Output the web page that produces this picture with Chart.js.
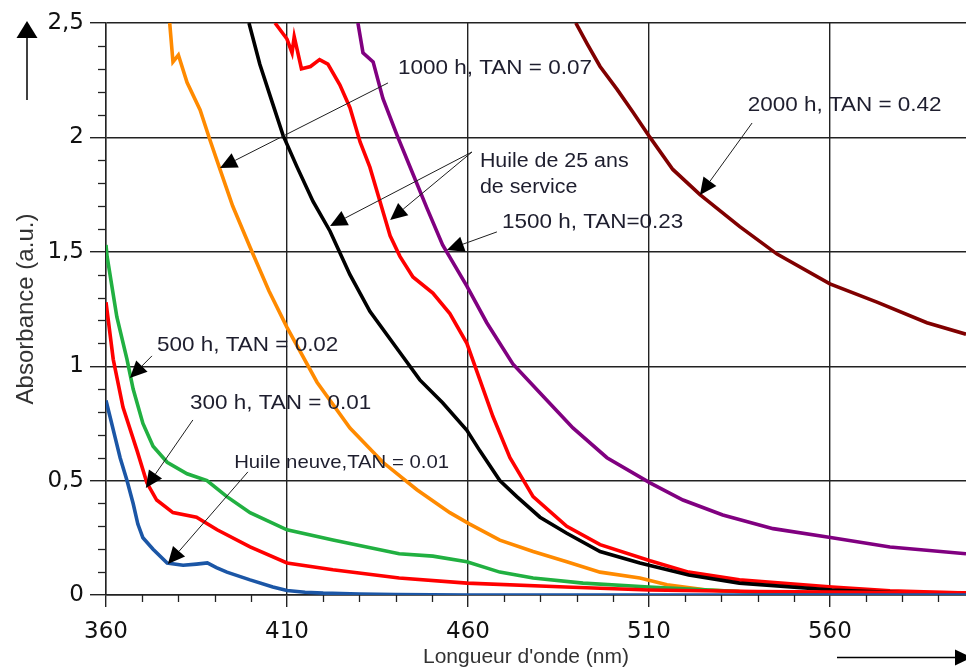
<!DOCTYPE html>
<html>
<head>
<meta charset="utf-8">
<script src="https://cdn.jsdelivr.net/npm/chart.js@4.4.1/dist/chart.umd.min.js"></script>
<style>
  html,body{margin:0;padding:0;background:#fff;}
  #wrap{width:966px;height:668px;position:relative;}
</style>
</head>
<body>
<div id="wrap"><canvas id="c" width="966" height="668"></canvas></div>
<script>
// ---------- DATA ----------
const xTickValues = [360, 410, 460, 510, 560];
const yTickValues = [0, 0.5, 1, 1.5, 2, 2.5];
const yTickLabels = ['0', '0,5', '1', '1,5', '2', '2,5'];

// Huile neuve, TAN = 0.01 (blue)
const neuveNm  = [360, 361.1, 362.5, 363.9, 365.8, 367.5, 368.8, 370.2, 373, 376.9, 381.3, 385, 388, 390.5, 393.4, 399.8, 406.1, 410, 415, 420, 430, 440, 460, 597.6];
const neuveAbs = [0.85, 0.78, 0.69, 0.60, 0.50, 0.40, 0.31, 0.25, 0.20, 0.14, 0.13, 0.135, 0.14, 0.12, 0.10, 0.066, 0.035, 0.02, 0.012, 0.008, 0.004, 0.002, 0.0, 0.0];

// 300 h, TAN = 0.01 (red, low)
const h300Nm  = [360, 362, 364.7, 368.6, 371.3, 374, 378.5, 385, 390.7, 399.8, 410, 422.7, 441, 459.7, 487, 510, 540, 570, 597.6];
const h300Abs = [1.28, 1.03, 0.82, 0.63, 0.49, 0.415, 0.36, 0.34, 0.285, 0.21, 0.14, 0.11, 0.074, 0.052, 0.035, 0.022, 0.015, 0.012, 0.01];

// 500 h, TAN = 0.02 (green)
const h500Nm  = [360, 360.3, 363, 365.8, 367.5, 370.2, 373, 376.9, 382.4, 387.9, 393.4, 399.8, 410, 422.7, 441, 450.3, 459.7, 468.8, 478, 491.8, 510, 535, 560, 597.6];
const h500Abs = [1.53, 1.48, 1.215, 1.03, 0.90, 0.75, 0.65, 0.58, 0.53, 0.50, 0.43, 0.36, 0.285, 0.24, 0.18, 0.17, 0.145, 0.10, 0.074, 0.052, 0.035, 0.015, 0.008, 0.005];

// 1000 h, TAN = 0.07 (orange)
const h1000Nm  = [377.6, 378.5, 380, 382.4, 386, 388.7, 391.5, 395, 399.8, 405, 410, 418.3, 427.4, 436.5, 445.9, 455, 460.5, 468.8, 478, 487.3, 496.5, 507.5, 515, 526, 544, 570, 597.6];
const h1000Abs = [2.5, 2.33, 2.36, 2.24, 2.12, 1.99, 1.86, 1.70, 1.52, 1.33, 1.17, 0.93, 0.73, 0.58, 0.46, 0.36, 0.31, 0.24, 0.19, 0.145, 0.10, 0.074, 0.045, 0.022, 0.008, 0.003, 0];

// Huile de 25 ans de service (black)
const ans25aNm  = [399.5, 402.5, 406, 408.9, 412.8, 417.2, 421.9, 427.4, 432.9, 441.2, 446.7, 453, 459.7, 463.3, 468.8, 473.5, 479.9, 487.3, 496.5, 507.5, 521, 535, 560.6, 580, 597.6];
const ans25aAbs = [2.5, 2.32, 2.15, 2.01, 1.87, 1.72, 1.59, 1.40, 1.24, 1.06, 0.94, 0.84, 0.72, 0.63, 0.50, 0.43, 0.34, 0.27, 0.19, 0.14, 0.087, 0.052, 0.022, 0.01, 0.004];

// Huile de 25 ans de service (red, upper)
const ans25bNm  = [406.7, 410, 411.4, 412, 414, 416.5, 419, 421.3, 424.6, 427.4, 430.2, 432.9, 435.7, 438.5, 441.2, 444.8, 450.3, 455, 459.7, 463.3, 466.9, 471.6, 478, 487.3, 496.5, 510.3, 521, 535, 560.6, 576.6, 597.6];
const ans25bAbs = [2.5, 2.43, 2.37, 2.44, 2.30, 2.31, 2.34, 2.32, 2.23, 2.13, 1.98, 1.87, 1.72, 1.57, 1.48, 1.39, 1.32, 1.23, 1.10, 0.94, 0.78, 0.60, 0.43, 0.30, 0.22, 0.150, 0.10, 0.066, 0.035, 0.018, 0.008];

// 1500 h, TAN = 0.23 (purple)
const h1500Nm  = [429.6, 431, 433.8, 436.5, 440.4, 444.8, 448.7, 453, 459.7, 465.2, 472.4, 480.7, 489, 498.4, 510.3, 519.4, 530.4, 544.3, 560.6, 576.6, 597.6];
const h1500Abs = [2.5, 2.37, 2.33, 2.17, 2.01, 1.84, 1.69, 1.53, 1.35, 1.19, 1.01, 0.87, 0.73, 0.60, 0.49, 0.415, 0.35, 0.29, 0.25, 0.21, 0.18];

// 2000 h, TAN = 0.42 (maroon)
const h2000Nm  = [489.8, 492.9, 496.5, 501.2, 505.6, 510.3, 516.6, 524.1, 535.1, 545.4, 560, 573, 586.8, 597.6];
const h2000Abs = [2.5, 2.41, 2.31, 2.21, 2.11, 2.00, 1.86, 1.75, 1.61, 1.49, 1.36, 1.28, 1.19, 1.14];

// ---------- BUILD ----------
const zip = (xs, ys) => xs.map((x, i) => ({x: x, y: ys[i]}));
const series = [
  {label: 'Huile neuve, TAN = 0.01', nm: neuveNm, abs: neuveAbs, color: '#1b56a6'},
  {label: '300 h, TAN = 0.01', nm: h300Nm, abs: h300Abs, color: '#ff0000'},
  {label: '500 h, TAN = 0.02', nm: h500Nm, abs: h500Abs, color: '#21b041'},
  {label: '1000 h, TAN = 0.07', nm: h1000Nm, abs: h1000Abs, color: '#ff8a00'},
  {label: 'Huile de 25 ans (1)', nm: ans25aNm, abs: ans25aAbs, color: '#000000'},
  {label: 'Huile de 25 ans (2)', nm: ans25bNm, abs: ans25bAbs, color: '#ff0000'},
  {label: '1500 h, TAN=0.23', nm: h1500Nm, abs: h1500Abs, color: '#800080'},
  {label: '2000 h, TAN = 0.42', nm: h2000Nm, abs: h2000Abs, color: '#800000'}
];

// annotation texts & arrows (in data units)
const notes = [
  {lines: ['1000 h, TAN = 0.07'], at: [440.7, 2.303], size: 21, arrows: [[[437.9, 2.238], [391.5, 1.866]]]},
  {lines: ['Huile de 25 ans', 'de service'], at: [463.3, 1.893], size: 20, gap: 0.11, arrows: [[[461.1, 1.936], [421.9, 1.613]], [[461.1, 1.936], [438.5, 1.639]]]},
  {lines: ['1500 h, TAN=0.23'], at: [469.4, 1.630], size: 21, arrows: [[[468.0, 1.587], [454.2, 1.508]]]},
  {lines: ['2000 h, TAN = 0.42'], at: [537.3, 2.142], size: 21, arrows: [[[538.5, 2.063], [524.1, 1.748]]]},
  {lines: ['500 h, TAN = 0.02'], at: [374.1, 1.093], size: 21, arrows: [[[372.7, 1.045], [366.6, 0.948]]]},
  {lines: ['300 h, TAN = 0.01'], at: [383.2, 0.839], size: 21, arrows: [[[384.0, 0.765], [371.0, 0.468]]]},
  {lines: ['Huile neuve,TAN = 0.01'], at: [395.4, 0.577], size: 19, arrows: [[[399.2, 0.538], [377.1, 0.135]]]}
];

const minorX = [];
for (let v = 370; v <= 590; v += 10) if ((v - 360) % 50 !== 0) minorX.push(v);
const minorY = [];
for (let i = 1; i < 25; i++) if (i % 5 !== 0) minorY.push(i / 10);

const GRID = '#222222';

function arrow(ctx, x1, y1, x2, y2, len, half) {
  const a = Math.atan2(y2 - y1, x2 - x1);
  const bx = x2 - len * Math.cos(a), by = y2 - len * Math.sin(a);
  ctx.beginPath(); ctx.moveTo(x1, y1); ctx.lineTo(bx, by); ctx.stroke();
  ctx.beginPath();
  ctx.moveTo(x2, y2);
  ctx.lineTo(bx + half * Math.sin(a), by - half * Math.cos(a));
  ctx.lineTo(bx - half * Math.sin(a), by + half * Math.cos(a));
  ctx.closePath(); ctx.fill();
}

const decor = {
  id: 'decor',
  afterDatasetsDraw(chart) {
    const ctx = chart.ctx, xs = chart.scales.x, ys = chart.scales.y;
    const ca = chart.chartArea;
    ctx.save();
    // minor ticks
    ctx.strokeStyle = GRID; ctx.lineWidth = 1.3;
    minorX.forEach(v => {
      const p = Math.round(xs.getPixelForValue(v)) + 0.5;
      ctx.beginPath(); ctx.moveTo(p, ca.bottom); ctx.lineTo(p, ca.bottom + 7); ctx.stroke();
    });
    minorY.forEach(v => {
      const p = Math.round(ys.getPixelForValue(v)) + 0.5;
      ctx.beginPath(); ctx.moveTo(ca.left - 8, p); ctx.lineTo(ca.left, p); ctx.stroke();
    });
    // annotations
    ctx.fillStyle = '#1e1e2e'; ctx.strokeStyle = '#1e1e1e'; ctx.lineWidth = 1;
    notes.forEach(n => {
      ctx.font = n.size + 'px "Liberation Sans", Arial, sans-serif';
      ctx.textBaseline = 'middle'; ctx.textAlign = 'left';
      n.lines.forEach((t, i) => {
        const px = xs.getPixelForValue(n.at[0]);
        const py = ys.getPixelForValue(n.at[1] - i * (n.gap || 0));
        ctx.save(); ctx.translate(px, py); ctx.scale(1.07, 1); ctx.fillText(t, 0, 0); ctx.restore();
      });
      ctx.fillStyle = '#000';
      n.arrows.forEach(ar => {
        arrow(ctx, xs.getPixelForValue(ar[0][0]), ys.getPixelForValue(ar[0][1]),
              xs.getPixelForValue(ar[1][0]), ys.getPixelForValue(ar[1][1]), 17, 8);
      });
      ctx.fillStyle = '#1e1e2e';
    });
    // axis direction arrows
    ctx.fillStyle = '#000'; ctx.strokeStyle = '#000'; ctx.lineWidth = 1.5;
    arrow(ctx, 27, 100, 27, 21, 17, 10.5);
    arrow(ctx, 837, 657.5, 972, 657.5, 17, 8);
    // x axis title (centred as in the original figure)
    ctx.fillStyle = '#333';
    ctx.font = '21px "Liberation Sans", Arial, sans-serif';
    ctx.textAlign = 'center'; ctx.textBaseline = 'middle';
    ctx.fillText("Longueur d'onde (nm)", (ca.left + ca.right) / 2 - 10, 657);
    ctx.restore();
  }
};

new Chart(document.getElementById('c'), {
  type: 'line',
  data: {
    datasets: series.map(s => ({
      label: s.label,
      data: zip(s.nm, s.abs),
      borderColor: s.color,
      backgroundColor: s.color,
      borderWidth: 3.6,
      pointRadius: 0,
      tension: 0,
      fill: false
    }))
  },
  options: {
    responsive: false,
    animation: false,
    devicePixelRatio: 1,
    layout: {padding: {left: 0, right: 0, top: 23, bottom: 0}},
    plugins: {legend: {display: false}, tooltip: {enabled: false}},
    scales: {
      x: {
        type: 'linear', min: 360, max: 597.6,
        afterBuildTicks: s => { s.ticks = xTickValues.map(v => ({value: v})); },
        afterFit: s => { s.height = 73; },
        ticks: {autoSkip: false, maxRotation: 0, padding: 11, color: '#111',
                font: {family: '"DejaVu Sans", sans-serif', size: 23},
                callback: v => String(v)},
        grid: {color: GRID, lineWidth: 1.4, tickLength: 12, tickColor: GRID},
        border: {color: GRID, width: 1.4},
        title: {display: false}
      },
      y: {
        type: 'linear', min: 0, max: 2.5,
        afterBuildTicks: s => { s.ticks = yTickValues.map(v => ({value: v})); },
        afterFit: s => { s.width = 106; },
        ticks: {autoSkip: false, padding: 6, color: '#111',
                font: {family: '"DejaVu Sans", sans-serif', size: 23},
                callback: (v, i) => yTickLabels[i]},
        grid: {color: GRID, lineWidth: 1.4, tickLength: 16, tickColor: GRID},
        border: {color: GRID, width: 1.4},
        title: {display: true, text: 'Absorbance (a.u.)', color: '#333',
                font: {family: '"Liberation Sans", Arial, sans-serif', size: 24},
                padding: {top: 12, bottom: 0}}
      }
    }
  },
  plugins: [decor]
});
</script>
</body>
</html>
